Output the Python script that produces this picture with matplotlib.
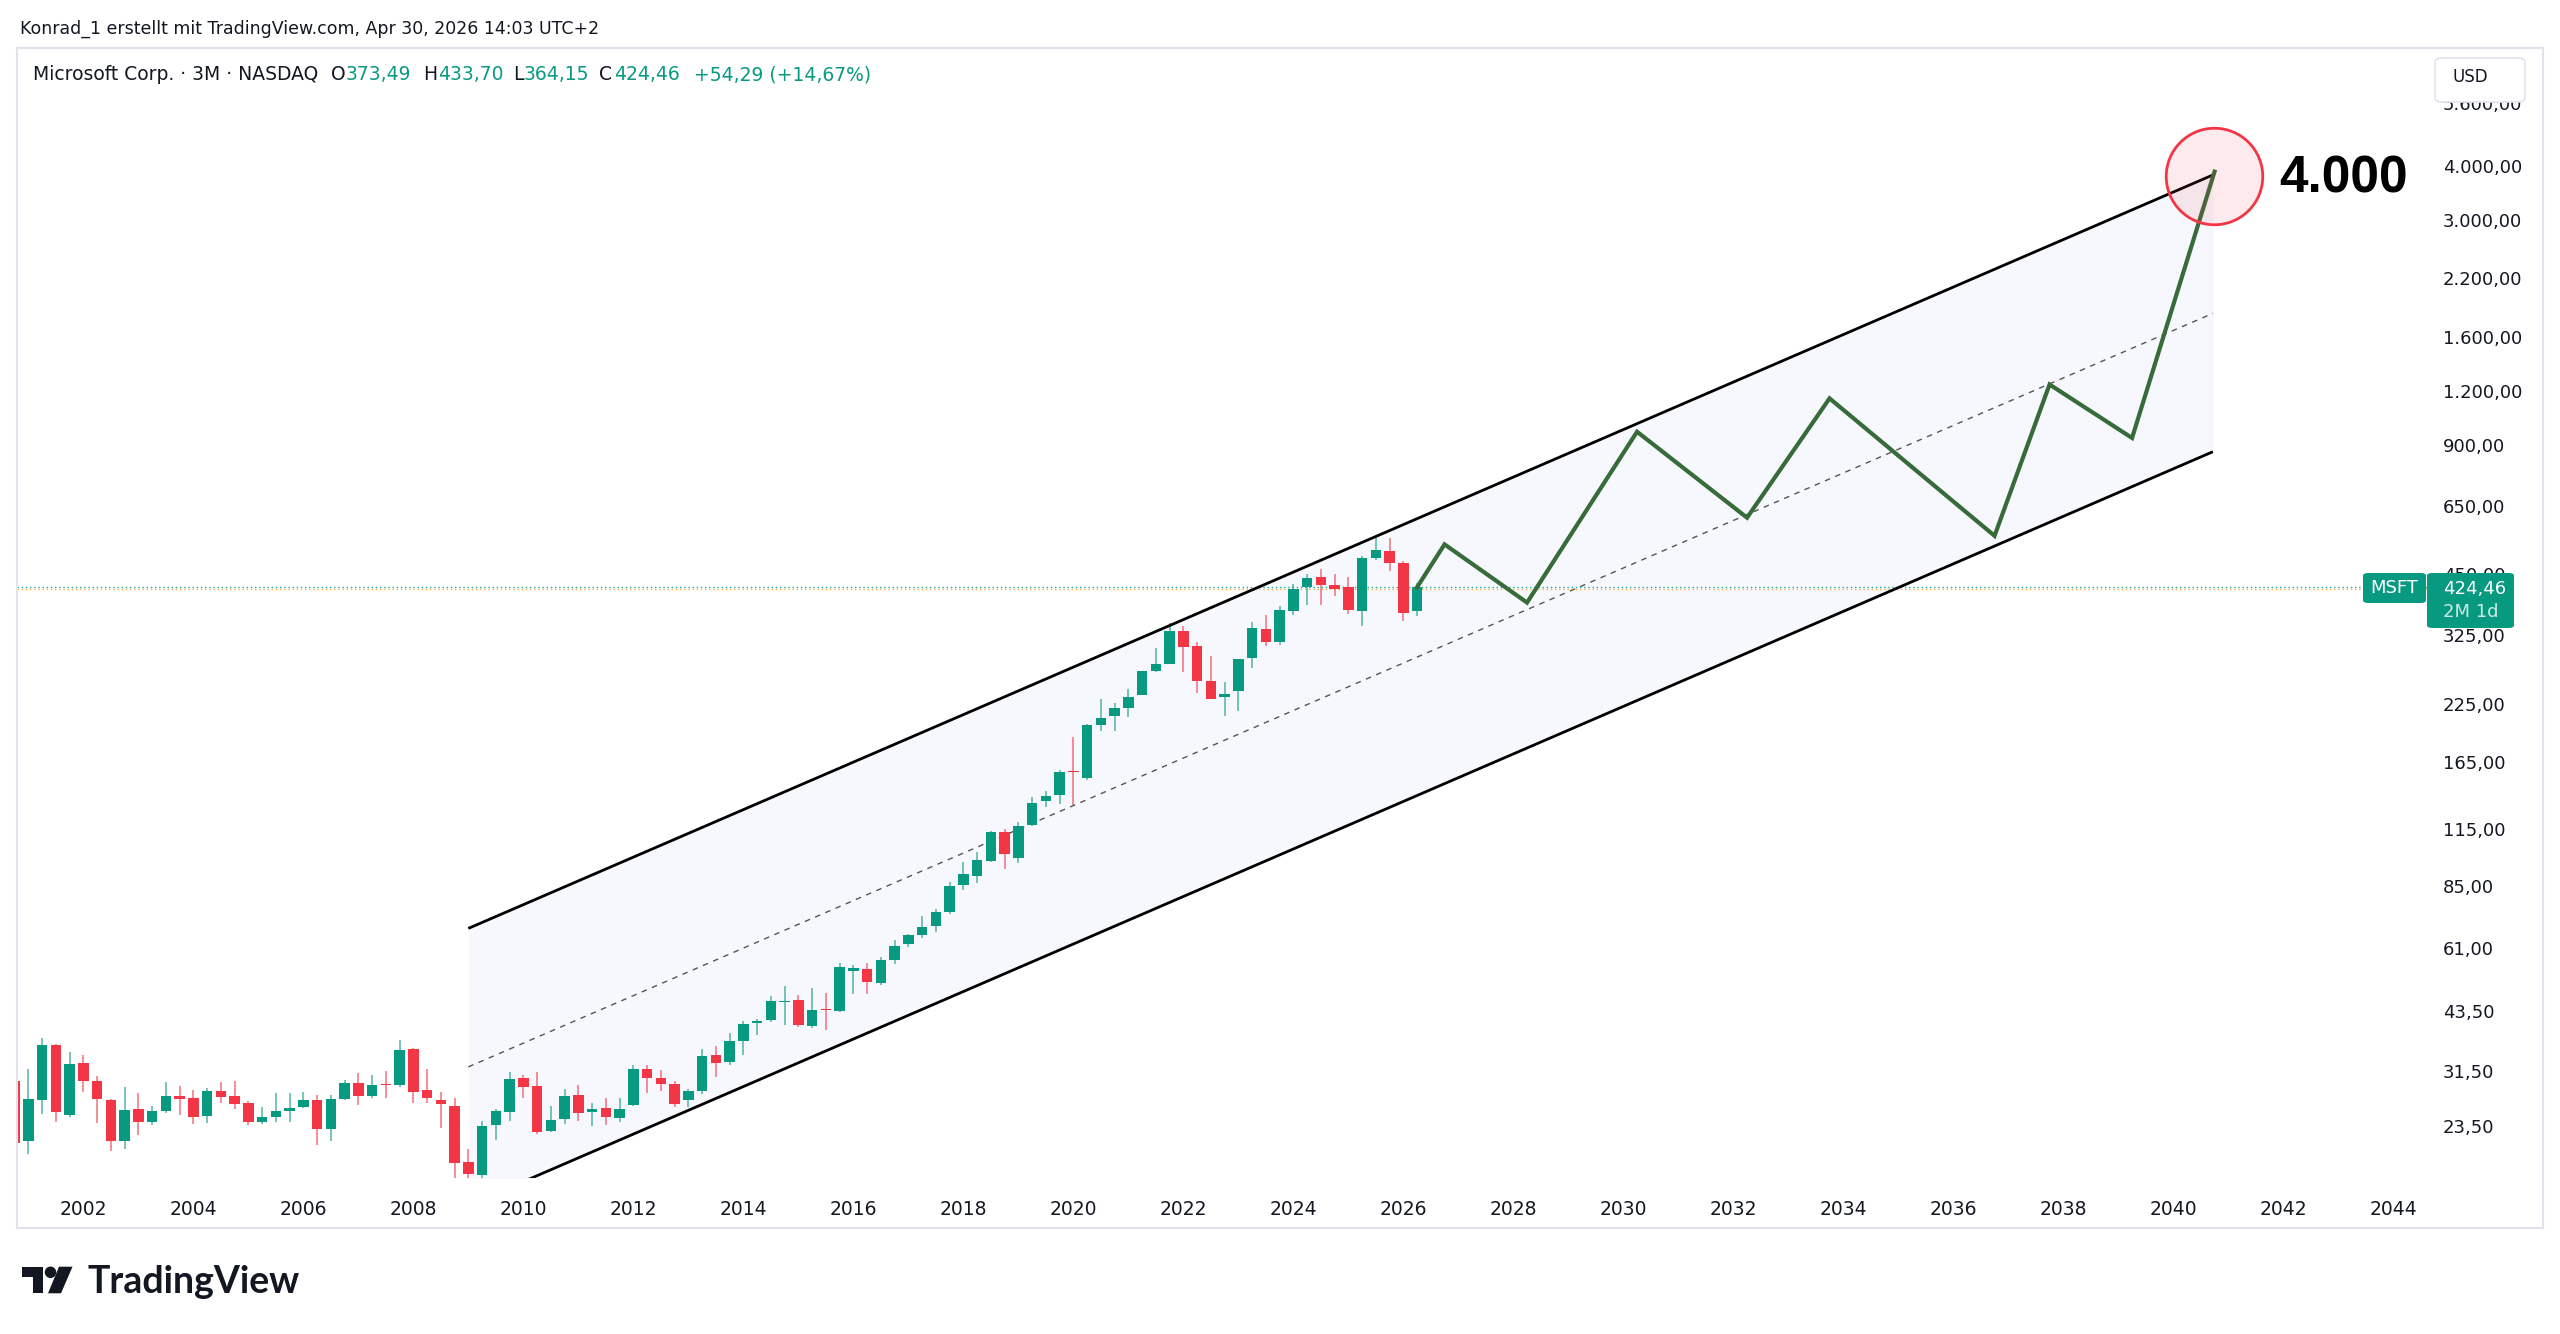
import matplotlib
matplotlib.use('Agg')
import matplotlib.pyplot as plt
import matplotlib.patches as mpatches
import matplotlib.transforms as mtransforms
from matplotlib.ticker import NullLocator
import numpy as np
import pandas as pd

# quarterly candles, MSFT 2000Q4 .. 2026Q2 (3M bars)
quarters = pd.period_range('2000Q4', '2026Q2', freq='Q')

opens = [30.16,
         21.84, 27.20, 36.60, 25.20,
         33.23, 30.15, 27.21, 21.84,
         26.01, 24.25, 25.65, 27.90,
         27.58, 24.99, 28.66, 27.81,
         26.80, 24.21, 24.95, 25.71,
         26.25, 27.26, 23.29, 27.38,
         29.91, 27.88, 29.65, 29.46,
         35.79, 28.83, 27.27, 26.38,
         19.53, 18.23, 23.82, 25.60,
         30.62, 29.35, 23.09, 24.61,
         28.05, 25.53, 26.09, 24.72,
         26.55, 32.22, 30.63, 29.68,
         27.25, 28.64, 34.75, 33.35,
         37.35, 41.15, 41.86, 46.27,
         46.66, 40.60, 44.46, 43.92,
         54.32, 55.05, 51.13, 57.57,
         62.79, 65.81, 69.33, 74.71,
         86.13, 90.47, 98.10, 114.75,
         99.55, 118.95, 134.88, 139.66,
         158.78, 153.00, 203.14, 213.49,
         222.53, 238.47, 271.60, 282.12,
         335.35, 309.37, 257.57, 235.41,
         243.08, 289.93, 339.19, 316.28,
         373.86, 424.57, 448.66, 428.45,
         425.53, 374.65, 497.24, 514.80,
         484.00, 373.49]

highs = [35.44,
         32.19, 38.08, 36.83, 35.28,
         34.69, 30.91, 27.45, 29.24,
         28.29, 26.45, 29.96, 29.30,
         28.80, 29.00, 29.97, 30.20,
         27.10, 26.30, 28.25, 28.25,
         28.38, 27.94, 27.94, 30.26,
         31.48, 31.16, 31.84, 37.50,
         35.96, 32.10, 28.50, 27.50,
         21.00, 24.34, 26.00, 31.58,
         31.24, 31.58, 26.40, 28.87,
         29.46, 26.87, 27.50, 27.49,
         32.95, 32.89, 32.00, 30.25,
         28.85, 35.78, 36.43, 38.98,
         41.50, 42.07, 47.57, 50.05,
         47.91, 49.54, 48.41, 56.85,
         56.19, 56.77, 58.70, 64.10,
         66.19, 72.89, 75.97, 87.50,
         97.24, 102.69, 115.29, 116.18,
         120.82, 138.40, 142.37, 159.55,
         190.70, 204.40, 232.86, 228.12,
         246.13, 271.65, 305.84, 349.67,
         344.30, 315.95, 294.18, 255.33,
         289.27, 351.47, 366.78, 384.30,
         430.82, 456.17, 468.35, 456.16,
         448.38, 500.76, 555.45, 553.00,
         489.00, 433.70]

lows = [20.13,
        20.38, 25.28, 24.22, 24.85,
        28.38, 24.09, 20.71, 20.93,
        22.55, 23.78, 25.40, 25.13,
        24.01, 24.15, 26.85, 25.95,
        23.82, 23.92, 24.29, 24.25,
        26.10, 21.46, 21.90, 27.26,
        26.60, 27.60, 27.51, 29.20,
        26.87, 26.86, 23.50, 17.50,
        14.87, 17.50, 22.00, 24.30,
        27.57, 22.73, 22.95, 24.03,
        24.30, 23.65, 23.79, 24.26,
        26.39, 28.32, 28.54, 26.26,
        26.28, 28.11, 30.84, 32.80,
        34.63, 38.51, 41.48, 40.80,
        40.23, 40.12, 39.72, 43.75,
        48.03, 48.04, 50.39, 56.32,
        61.95, 64.85, 67.14, 73.71,
        83.83, 87.08, 97.26, 93.96,
        97.20, 118.10, 130.78, 133.22,
        132.52, 150.83, 196.25, 196.63,
        211.94, 238.22, 269.60, 281.81,
        270.00, 241.51, 232.73, 213.43,
        219.35, 275.37, 309.45, 311.21,
        366.50, 385.58, 385.58, 405.57,
        367.24, 344.79, 492.35, 464.00,
        355.00, 364.15]

closes = [21.69,
          27.35, 36.50, 25.59, 33.13,
          30.16, 27.35, 21.87, 25.85,
          24.21, 25.64, 27.80, 27.37,
          24.93, 28.56, 27.65, 26.72,
          24.17, 24.84, 25.73, 26.15,
          27.21, 23.30, 27.35, 29.86,
          27.87, 29.47, 29.46, 35.60,
          28.38, 27.51, 26.69, 19.44,
          18.37, 23.77, 25.72, 30.48,
          29.29, 23.01, 24.49, 27.91,
          25.39, 26.00, 24.89, 25.96,
          32.26, 30.59, 29.76, 26.71,
          28.61, 34.55, 33.28, 37.41,
          40.99, 41.70, 46.36, 46.45,
          40.66, 44.15, 44.26, 55.48,
          55.23, 51.17, 57.60, 62.14,
          65.86, 68.93, 74.49, 85.54,
          91.27, 98.61, 114.37, 101.57,
          117.94, 133.96, 139.03, 157.70,
          157.71, 203.51, 210.33, 222.42,
          235.77, 270.90, 281.92, 336.32,
          308.31, 256.83, 232.90, 239.82,
          288.30, 340.54, 315.75, 376.04,
          420.72, 446.95, 430.30, 421.50,
          375.39, 497.41, 517.95, 483.62,
          370.17, 424.46]

# parallel channel (upper / lower edge at both ends), log scale
channel_x = [2009.0, 2040.72]
channel_upper = [68.3, 3860.0]
channel_lower = [15.5, 877.0]

# projected zig-zag path
path_x = [2026.25, 2026.75, 2028.25, 2030.25, 2032.25, 2033.75, 2036.75,
          2037.75, 2039.25, 2040.75]
path_y = [424.46, 534.0, 391.0, 976.0, 616.0, 1167.0, 559.0, 1257.0, 944.0,
          3929.0]

target_x = 2040.74
target_price = 3845.0
target_label = '4.000'

last_price = 424.46
prev_line = 420.0

price_ticks = [5600, 4000, 3000, 2200, 1600, 1200, 900, 650, 450, 325, 225,
               165, 115, 85, 61, 43.5, 31.5, 23.5]
year_ticks = list(range(2002, 2045, 2))

GREEN = '#089981'
RED = '#F23645'
TEXT = '#131722'

W, H = 2560, 1334


def fx(px):
    return px / W


def fy(py):
    return 1 - py / H


def de_fmt(v):
    s = f"{v:,.2f}"
    return s.replace(',', '#').replace('.', ',').replace('#', '.')


fig = plt.figure(figsize=(W / 100, H / 100), dpi=100)
fig.patch.set_facecolor('white')

ax_left, ax_right, ax_top, ax_bottom = 17, 2430, 49, 1178
ax = fig.add_axes([fx(ax_left), fy(ax_bottom), (ax_right - ax_left) / W,
                   (ax_bottom - ax_top) / H])
ax.set_yscale('log')
ax.set_xlim(2000.7945, 2044.6673)
ax.set_ylim(17.95, 7577)
for sp in ax.spines.values():
    sp.set_visible(False)
ax.yaxis.set_major_locator(NullLocator())
ax.yaxis.set_minor_locator(NullLocator())
ax.set_xticks(year_ticks)
ax.set_xticklabels([str(y) for y in year_ticks], fontsize=13.5, color=TEXT)
ax.tick_params(axis='x', length=0, pad=16)

# channel
ax.fill_between(channel_x, channel_lower, channel_upper, color='#F7F8FE',
                lw=0, zorder=1)
ax.plot(channel_x, channel_upper, color='black', lw=2.0, zorder=4,
        solid_capstyle='butt')
ax.plot(channel_x, channel_lower, color='black', lw=2.0, zorder=4,
        solid_capstyle='butt')
mid = [np.sqrt(u * l) for u, l in zip(channel_upper, channel_lower)]
ax.plot(channel_x, mid, color='#555555', lw=1.0, ls=(0, (4, 4)), zorder=2)

# last price lines
ax.axhline(prev_line, color='#FF9800', lw=1.0, ls=(0, (1, 2)), alpha=0.7,
           zorder=2)
ax.axhline(last_price, color='#22AB94', lw=1.0, ls=(0, (1, 2)), zorder=2)

# candles
x = quarters.year + (quarters.quarter - 1) * 0.25
for xi, o, h, l, c in zip(x, opens, highs, lows, closes):
    col = GREEN if c >= o else RED
    ax.vlines(xi, l, h, color=col, lw=1.3, alpha=0.6, zorder=3)
    lo, hi = min(o, c), max(o, c)
    if hi / lo < 1.006:
        lo, hi = lo / 1.003, lo * 1.003
    ax.bar(xi, hi - lo, bottom=lo, width=0.19, color=col, lw=0, zorder=3.5)

# projection path + target circle
ax.plot(path_x, path_y, color='#386B3A', lw=3.0, zorder=5,
        solid_joinstyle='miter')
ax.plot([target_x], [target_price], marker='o', ms=69.5,
        mfc=(0.949, 0.212, 0.271, 0.1), mec=RED, mew=2.0, zorder=6)
ax.text(2041.92, 3510, target_label, fontsize=37, fontweight='bold',
        family='Liberation Sans', color='black', va='baseline', ha='left',
        zorder=7)

# price scale labels
ytrans = mtransforms.blended_transform_factory(fig.transFigure, ax.transData)
for v in price_ticks:
    ax.text(fx(2443), v, de_fmt(v), transform=ytrans, fontsize=13,
            color=TEXT, va='center', ha='left', clip_on=False)

# USD box
fig.add_artist(mpatches.FancyBboxPatch(
    (fx(2435), fy(102)), (2525 - 2435) / W, (102 - 58) / H,
    boxstyle='round,pad=0,rounding_size=0.003', transform=fig.transFigure,
    facecolor='white', edgecolor='#E0E3EB', lw=1.2, zorder=2))
fig.text(fx(2470), fy(77), 'USD', fontsize=12, color=TEXT, ha='center',
         va='center', zorder=3)

# last price labels
fig.add_artist(mpatches.FancyBboxPatch(
    (fx(2363), fy(603)), (2426 - 2363) / W, (603 - 573) / H,
    boxstyle='round,pad=0,rounding_size=0.002', transform=fig.transFigure,
    facecolor=GREEN, edgecolor='none', zorder=2))
fig.add_artist(mpatches.FancyBboxPatch(
    (fx(2427), fy(628)), (2514 - 2427) / W, (628 - 573) / H,
    boxstyle='round,pad=0,rounding_size=0.002', transform=fig.transFigure,
    facecolor=GREEN, edgecolor='none', zorder=2))
fig.text(fx(2394.5), fy(588), 'MSFT', fontsize=13, color='white',
         ha='center', va='center', zorder=3)
fig.text(fx(2443), fy(589), de_fmt(last_price), fontsize=13, color='white',
         ha='left', va='center', zorder=3)
fig.text(fx(2443), fy(612), '2M 1d', fontsize=13, color='white', alpha=0.8,
         ha='left', va='center', zorder=3)

# pane border
fig.add_artist(mpatches.Rectangle(
    (fx(17), fy(1228)), (2543 - 17) / W, (1228 - 48) / H,
    transform=fig.transFigure, fill=False, edgecolor='#E0E3EB', lw=1.5,
    zorder=1))

# header + legend
fig.text(fx(20), fy(29), 'Konrad_1 erstellt mit TradingView.com, Apr 30, 2026 14:03 UTC+2',
         fontsize=12.5, color=TEXT, ha='left', va='center')
legend_parts = [(33, 'Microsoft Corp. · 3M · NASDAQ', TEXT),
                (331, 'O', TEXT), (346, '373,49', GREEN),
                (423, 'H', TEXT), (437.6, '433,70', GREEN),
                (512.7, 'L', TEXT), (524, '364,15', GREEN),
                (599, 'C', TEXT), (614, '424,46', GREEN),
                (694, '+54,29 (+14,67%)', GREEN)]
for px, s, col in legend_parts:
    fig.text(fx(px), fy(75), s, fontsize=13.5, color=col, ha='left',
             va='center')

# TradingView logo
logo = '#131722'
fig.add_artist(mpatches.Polygon(
    [(fx(21.7), fy(1266.7)), (fx(43.3), fy(1266.7)), (fx(43.3), fy(1293.3)),
     (fx(33.3), fy(1293.3)), (fx(33.3), fy(1277.3)), (fx(21.7), fy(1277.3))],
    closed=True, transform=fig.transFigure, facecolor=logo, edgecolor='none'))
fig.add_artist(mpatches.Ellipse((fx(50.5), fy(1272.3)), 11.5 / W, 11.5 / H,
                                transform=fig.transFigure, facecolor=logo,
                                edgecolor='none'))
fig.add_artist(mpatches.Polygon(
    [(fx(59.0), fy(1266.7)), (fx(72.5), fy(1266.7)), (fx(61.0), fy(1293.3)),
     (fx(48.0), fy(1293.3))],
    closed=True, transform=fig.transFigure, facecolor=logo, edgecolor='none'))
fig.text(fx(87), fy(1293.3), 'TradingView', fontsize=27, fontweight='bold',
         family='Lato', color=logo, ha='left', va='baseline')

fig.savefig('out.png', dpi=100, facecolor='white')
